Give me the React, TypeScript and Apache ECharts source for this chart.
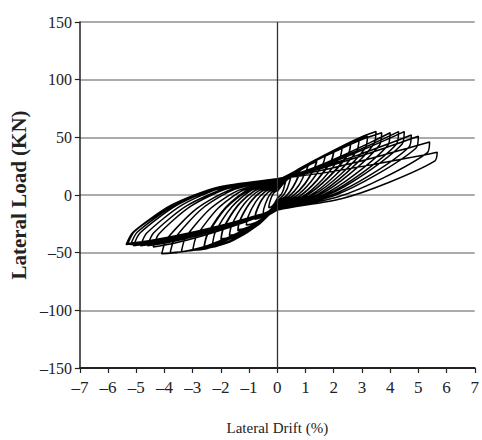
import React, { useEffect, useRef } from "react";
import * as echarts from "echarts";

// Drift (%) / load (kN) points of each load cycle
const cycles: number[][][] = [
  [[0,3],[0.09,6.1],[0.18,8.9],[0.26,11],[0.3,12],[0.27,9.6],[0.21,4.1],[0.12,-0.1],[0,-3],[-0.09,-6.8],[-0.18,-9.5],[-0.26,-10.7],[-0.3,-11],[-0.29,-8.3],[-0.21,-2],[-0.12,2]],
  [[0,4],[0.15,8.4],[0.3,12.5],[0.43,15.6],[0.5,17],[0.46,13.6],[0.35,5.5],[0.2,-0.7],[0,-5],[-0.15,-10.2],[-0.3,-13.9],[-0.43,-15.6],[-0.5,-16],[-0.48,-12],[-0.35,-3.3],[-0.2,2.3]],
  [[0,5],[0.24,10.8],[0.48,16.1],[0.68,20.1],[0.8,22],[0.76,17.6],[0.56,7.3],[0.32,-0.6],[0,-6],[-0.24,-13.1],[-0.48,-18.1],[-0.68,-20.5],[-0.8,-21],[-0.76,-15.8],[-0.56,-4.7],[-0.32,2.5]],
  [[0,6],[0.24,11.1],[0.48,15.8],[0.68,19.4],[0.8,21],[0.76,16.8],[0.56,6.9],[0.32,-0.8],[0,-6],[-0.24,-12.6],[-0.48,-17.3],[-0.68,-19.5],[-0.8,-20],[-0.76,-15],[-0.56,-4.3],[-0.32,2.6]],
  [[0,6],[0.33,12.8],[0.66,19],[0.94,23.8],[1.1,26],[1.02,20.8],[0.77,8.7],[0.44,-0.6],[0,-7],[-0.33,-16],[-0.66,-22.4],[-0.94,-25.4],[-1.1,-26],[-1.05,-19.5],[-0.77,-6],[-0.44,2.8]],
  [[0,7],[0.42,14.8],[0.84,22],[1.19,27.5],[1.4,30],[1.32,24],[0.98,10.1],[0.56,-0.6],[0,-8],[-0.42,-18.9],[-0.84,-26.6],[-1.19,-30.2],[-1.4,-31],[-1.34,-23.3],[-0.98,-7.3],[-0.56,3]],
  [[0,8],[0.42,15.1],[0.84,21.7],[1.19,26.7],[1.4,29],[1.32,23.2],[0.98,9.6],[0.56,-0.8],[0,-8],[-0.42,-18.4],[-0.84,-25.8],[-1.19,-29.3],[-1.4,-30],[-1.34,-22.5],[-0.98,-6.9],[-0.56,3.1]],
  [[0,8],[0.51,16.8],[1.02,24.9],[1.45,31.1],[1.7,34],[1.62,27.2],[1.19,11.5],[0.68,-0.7],[0,-9],[-0.51,-21.3],[-1.02,-30],[-1.45,-34.1],[-1.7,-35],[-1.62,-26.3],[-1.19,-8.3],[-0.68,3.4]],
  [[0,9],[0.6,18.9],[1.2,27.9],[1.7,34.8],[2,38],[1.92,30.4],[1.4,12.8],[0.8,-0.7],[0,-10],[-0.6,-23.7],[-1.2,-33.4],[-1.7,-38],[-2,-39],[-1.91,-29.3],[-1.4,-9.3],[-0.8,3.7]],
  [[0,10],[0.6,19.2],[1.2,27.6],[1.7,34],[2,37],[1.92,29.6],[1.4,12.4],[0.8,-0.9],[0,-10],[-0.6,-23.3],[-1.2,-32.6],[-1.7,-37.1],[-2,-38],[-1.91,-28.5],[-1.4,-8.9],[-0.8,3.8]],
  [[0,10],[0.69,20.5],[1.38,30.2],[1.96,37.6],[2.3,41],[2.22,32.8],[1.61,13.7],[0.92,-0.9],[0,-11],[-0.69,-26.2],[-1.38,-36.9],[-1.96,-41.9],[-2.3,-43],[-2.2,-32.3],[-1.61,-10.2],[-0.92,4.1]],
  [[0,11],[0.78,22.6],[1.56,33.1],[2.21,41.3],[2.6,45],[2.52,36],[1.82,15.6],[1.04,-0.2],[0,-11],[-0.78,-27.6],[-1.56,-39.3],[-2.21,-44.8],[-2.6,-46],[-2.48,-34.5],[-1.82,-11.3],[-1.04,3.7]],
  [[0,11],[0.78,22.2],[1.56,32.5],[2.21,40.4],[2.6,44],[2.52,35.2],[1.82,15.1],[1.04,-0.4],[0,-11],[-0.78,-27.1],[-1.56,-38.5],[-2.21,-43.9],[-2.6,-45],[-2.48,-33.8],[-1.82,-10.4],[-1.04,4.7]],
  [[0,12],[0.87,24.2],[1.74,35.4],[2.47,44],[2.9,48],[2.82,38.4],[2.03,16.5],[1.16,-0.4],[0,-12],[-0.9,-29.1],[-1.8,-41.1],[-2.55,-46.8],[-3,-48],[-2.87,-36],[-2.1,-11.5],[-1.2,4.3]],
  [[0,12],[0.96,25.3],[1.92,37.4],[2.72,46.7],[3.2,51],[3.12,40.8],[2.24,17.8],[1.28,0.1],[0,-12],[-1.02,-29.5],[-2.04,-41.9],[-2.89,-47.8],[-3.4,-49],[-3.25,-36.8],[-2.38,-11.9],[-1.36,4.2]],
  [[0,12],[1.05,26.6],[2.1,40],[2.98,50.3],[3.5,55],[3.42,44],[2.45,19.2],[1.4,0.1],[0,-13],[-1.14,-30.5],[-2.28,-42.9],[-3.23,-48.8],[-3.8,-50],[-3.63,-37.5],[-2.66,-11.7],[-1.52,4.9]],
  [[0,13],[1.11,26.9],[2.22,39.7],[3.15,49.5],[3.7,54],[3.62,43.2],[2.59,18.8],[1.48,-0.1],[0,-13],[-1.23,-31],[-2.46,-43.7],[-3.49,-49.7],[-4.1,-51],[-3.92,-38.3],[-2.87,-12.1],[-1.64,4.8]],
  [[0,13],[1.2,22.7],[2.4,35.2],[3.4,46.7],[4,54],[3.92,43.2],[2.8,18.8],[1.6,-0.1],[0,-13],[-1.32,-24.9],[-2.64,-35.3],[-3.74,-42.3],[-4.4,-45],[-4.2,-33.8],[-3.08,-9.9],[-1.76,5.5]],
  [[0,13],[1.29,22.9],[2.58,35.8],[3.66,47.6],[4.3,55],[4.22,44],[3.01,19.2],[1.72,0.1],[0,-13],[-1.38,-24.5],[-2.76,-34.6],[-3.91,-41.4],[-4.6,-44],[-4.39,-33],[-3.22,-9.5],[-1.84,5.6]],
  [[0,13],[1.35,22.9],[2.7,35.8],[3.83,47.6],[4.5,55],[4.42,44],[3.15,19.2],[1.8,0.1],[0,-13],[-1.46,-24.5],[-2.91,-34.6],[-4.12,-41.4],[-4.85,-44],[-4.63,-33],[-3.4,-9],[-1.94,6.5]],
  [[0,14],[1.43,23],[2.85,34.6],[4.04,45.3],[4.75,52],[4.67,41.6],[3.33,17.8],[1.9,-0.4],[0,-13],[-1.53,-24.5],[-3.06,-34.6],[-4.34,-41.4],[-5.1,-44],[-4.87,-33],[-3.57,-9],[-2.04,6.5]],
  [[0,14],[1.5,22.7],[3,34.1],[4.25,44.5],[5,51],[4.92,40.8],[3.5,17.4],[2,-0.6],[0,-13],[-1.56,-24.1],[-3.12,-33.9],[-4.42,-40.5],[-5.2,-43],[-4.97,-32.3],[-3.64,-8.7],[-2.08,6.6]],
  [[0,14],[1.62,21.6],[3.24,31.3],[4.59,40.3],[5.4,46],[5.32,36.8],[3.78,15.1],[2.16,-1.5],[0,-13],[-1.61,-24.1],[-3.22,-33.9],[-4.56,-40.5],[-5.36,-43],[-5.12,-32.3],[-3.75,-8.7],[-2.14,6.6]],
  [[0,14],[1.7,19.4],[3.4,26.5],[4.82,32.9],[5.67,37],[5.59,29.6],[3.97,11.1],[2.27,-3.2],[0,-13],[-1.59,-23.8],[-3.18,-33.2],[-4.5,-39.5],[-5.3,-42],[-5.06,-31.5],[-3.71,-9.3],[-2.12,5],[0,12]],
];

const xMin = -7;
const xMax = 7;
const yMin = -150;
const yMax = 150;
const xTitle = "Lateral Drift (%)";
const yTitle = "Lateral Load (KN)";

const serif = "'Liberation Serif', 'Times New Roman', serif";
const dashMinus = (v: number) => String(v).replace("-", "\u2013");

export default function App() {
  const ref = useRef<HTMLDivElement>(null);
  useEffect(() => {
    if (!ref.current) return;
    const chart = echarts.init(ref.current, null, { renderer: "svg" });
    const data: number[][] = [];
    cycles.forEach((c) => c.forEach((p) => data.push(p)));
    chart.setOption({
      animation: false,
      backgroundColor: "#fff",
      grid: { left: 70, right: 0, top: 22, bottom: 65, containLabel: false },
      xAxis: {
        type: "value",
        min: xMin,
        max: xMax,
        interval: 1,
        name: xTitle,
        nameLocation: "middle",
        nameGap: 52,
        nameTextStyle: { fontFamily: serif, fontSize: 15, color: "#222" },
        axisLine: { onZero: false, lineStyle: { color: "#222", width: 2 } },
        axisTick: { show: true, length: 5, lineStyle: { color: "#222", width: 1.2 } },
        axisLabel: { fontFamily: serif, fontSize: 17, color: "#222", margin: 11, formatter: dashMinus },
        splitLine: { show: false },
      },
      yAxis: {
        type: "value",
        min: yMin,
        max: yMax,
        interval: 50,
        name: yTitle,
        nameLocation: "middle",
        nameGap: 32,
        nameTextStyle: { fontFamily: serif, fontSize: 21, fontWeight: "bold", color: "#222" },
        axisLine: { onZero: false, lineStyle: { color: "#222", width: 1.5 } },
        axisTick: { show: true, length: 5, lineStyle: { color: "#222", width: 1.2 } },
        axisLabel: { fontFamily: serif, fontSize: 16, color: "#222", margin: 8, formatter: dashMinus },
        splitLine: { show: true, lineStyle: { color: "#8f8f8f", width: 1.6 } },
      },
      series: [
        {
          type: "line",
          data,
          showSymbol: false,
          smooth: 0.25,
          lineStyle: { color: "#000", width: 1.5 },
          markLine: {
            silent: true,
            symbol: "none",
            label: { show: false },
            lineStyle: { color: "#333", width: 1.3, type: "solid" },
            data: [{ xAxis: 0 }],
          },
        },
      ],
    });
    return () => chart.dispose();
  }, []);
  return <div ref={ref} style={{ position: "absolute", left: 0, top: 0, width: 482, height: 440 }} />;
}
